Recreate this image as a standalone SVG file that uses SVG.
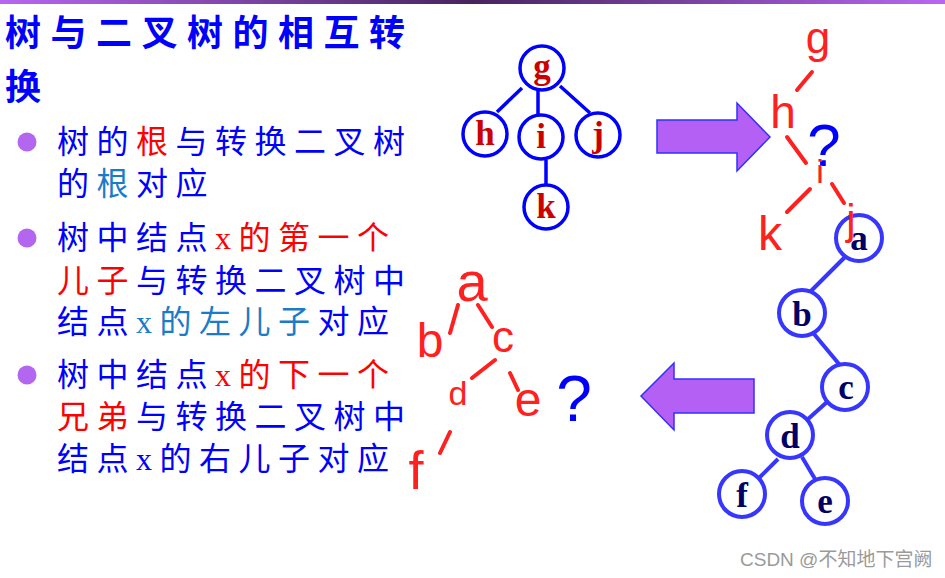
<svg xmlns="http://www.w3.org/2000/svg" width="945" height="578" viewBox="0 0 945 578">
<defs>
<linearGradient id="bar" x1="0" y1="0" x2="1" y2="0">
<stop offset="0" stop-color="#b866f2"/>
<stop offset="0.5" stop-color="#47245e"/>
<stop offset="1" stop-color="#b866f2"/>
</linearGradient>
</defs>
<style>
.t{font-family:"Noto Sans CJK SC","Noto Sans CJK JP",sans-serif;font-size:32px;letter-spacing:7.5px;fill:#0000ff}
.x{font-family:"Liberation Serif",serif}
.r{fill:#ff0000}
.c{fill:#1a7cc8}
.bul{fill:#b366f0}
.n1{fill:#fff;stroke:#0000ff;stroke-width:3.5}
.l1{fill:#cc0000;font-family:"Liberation Serif",serif;font-weight:bold;font-size:35px;text-anchor:middle}
.n2{fill:#fff;stroke:#3636ff;stroke-width:4}
.l2{fill:#000066;font-family:"Liberation Serif",serif;font-weight:bold;font-size:35px;text-anchor:middle}
.e1{stroke:#0000ff;stroke-width:3.5;fill:none}
.e2{stroke:#3636ff;stroke-width:4;fill:none}
.hw{fill:#ff2020;font-family:"Liberation Sans",sans-serif;text-anchor:middle}
.dash{stroke:#ff2020;stroke-width:4;stroke-linecap:round;fill:none}
.q{fill:#0000ff;font-family:"Liberation Sans",sans-serif;text-anchor:middle}
.arrow{fill:#b460f5;stroke:#3030ff;stroke-width:1.5}
</style>
<rect width="945" height="578" fill="#fff"/>
<rect x="0" y="0" width="945" height="4" fill="url(#bar)"/>

<g id="title">
<text x="5" y="46" font-family="Noto Sans CJK SC, sans-serif" font-size="36" font-weight="bold" letter-spacing="9.5" fill="#0000ff">树与二叉树的相互转</text>
<text x="5" y="100" font-family="Noto Sans CJK SC, sans-serif" font-size="36" font-weight="bold" fill="#0000ff">换</text>
</g>

<g id="bullets">
<circle class="bul" cx="27" cy="142" r="9.5"/>
<circle class="bul" cx="27" cy="238" r="9.5"/>
<circle class="bul" cx="27" cy="375" r="9.5"/>
<text class="t" x="57" y="153">树的<tspan class="r">根</tspan>与转换二叉树</text>
<text class="t" x="57" y="195">的<tspan class="c">根</tspan>对应</text>
<text class="t" x="57" y="249">树中结点<tspan class="x r">x</tspan><tspan class="r">的第一个</tspan></text>
<text class="t" x="57" y="292"><tspan class="r">儿子</tspan>与转换二叉树中</text>
<text class="t" x="57" y="333">结点<tspan class="x c">x</tspan><tspan class="c">的左儿子</tspan>对应</text>
<text class="t" x="57" y="386">树中结点<tspan class="x r">x</tspan><tspan class="r">的下一个</tspan></text>
<text class="t" x="57" y="428"><tspan class="r">兄弟</tspan>与转换二叉树中</text>
<text class="t" x="57" y="470">结点<tspan class="x">x</tspan>的右儿子对应</text>
</g>

<g id="tree-edges">
<line class="e1" x1="522" y1="88" x2="497" y2="112"/>
<line class="e1" x1="538" y1="90" x2="538" y2="114"/>
<line class="e1" x1="560" y1="86" x2="590" y2="113"/>
<line class="e1" x1="546" y1="160" x2="546" y2="185"/>
</g>
<g id="node-g"><circle class="n1" cx="542" cy="68" r="22"/><text class="l1" x="542" y="78">g</text></g>
<g id="node-h"><circle class="n1" cx="485" cy="134" r="22"/><text class="l1" x="485" y="145">h</text></g>
<g id="node-i"><circle class="n1" cx="541" cy="137" r="22"/><text class="l1" x="541" y="148">i</text></g>
<g id="node-j"><circle class="n1" cx="598" cy="135" r="22"/><text class="l1" x="598" y="146">j</text></g>
<g id="node-k"><circle class="n1" cx="546" cy="207" r="22"/><text class="l1" x="546" y="218">k</text></g>

<g id="arrow-right"><polygon class="arrow" points="657,120 737,120 737,103 770,137 737,171 737,153 657,153"/></g>
<g id="arrow-left"><polygon class="arrow" points="641,396 674,363 674,379 754,379 754,413 674,413 674,430"/></g>

<g id="bt-edges">
<line class="e2" x1="846" y1="256" x2="809" y2="293"/>
<line class="e2" x1="814" y1="334" x2="839" y2="364"/>
<line class="e2" x1="827" y1="402" x2="807" y2="420"/>
<line class="e2" x1="778" y1="459" x2="759" y2="478"/>
<line class="e2" x1="802" y1="457" x2="815" y2="479"/>
</g>
<g id="bt-a"><circle class="n2" cx="859" cy="238" r="23"/><text class="l2" x="859" y="250">a</text></g>
<g id="bt-b"><circle class="n2" cx="802" cy="313" r="23"/><text class="l2" x="802" y="326">b</text></g>
<g id="bt-c"><circle class="n2" cx="845" cy="387" r="23"/><text class="l2" x="846" y="399">c</text></g>
<g id="bt-d"><circle class="n2" cx="790" cy="435" r="23"/><text class="l2" x="790" y="448">d</text></g>
<g id="bt-f"><circle class="n2" cx="742" cy="494" r="23"/><text class="l2" x="742" y="507">f</text></g>
<g id="bt-e"><circle class="n2" cx="825" cy="501" r="23"/><text class="l2" x="825" y="513">e</text></g>

<g id="handwriting-top">
<path class="dash" d="M812,72 L797,90 M787,137 L806,163 M810,189 L787,212 M832,184 L844,203"/>
<text class="hw" x="818" y="53" font-size="44">g</text>
<text class="hw" x="783" y="128" font-size="46">h</text>
<text class="q" x="824" y="166" font-size="60">?</text>
<text class="hw" x="820" y="183" font-size="34">i</text>
<text class="hw" x="770" y="250" font-size="48">k</text>
<text class="hw" x="851" y="234" font-size="42">j</text>
</g>

<g id="handwriting-bottom">
<path class="dash" d="M458,305 L450,333 M478,305 L492,327 M495,360 L472,378 M510,373 L518,390 M450,432 L440,453"/>
<text class="hw" x="472" y="301" font-size="56">a</text>
<text class="hw" x="430" y="357" font-size="48">b</text>
<text class="hw" x="503" y="352" font-size="44">c</text>
<text class="hw" x="458" y="405" font-size="34">d</text>
<text class="hw" x="528" y="416" font-size="48">e</text>
<text class="hw" x="416" y="489" font-size="54">f</text>
<text class="q" x="574" y="421" font-size="64">?</text>
</g>

<text x="740" y="566" font-family="Liberation Sans, Noto Sans CJK SC, sans-serif" font-size="19" fill="#9a9a9a">CSDN @不知地下宫阙</text>
</svg>
